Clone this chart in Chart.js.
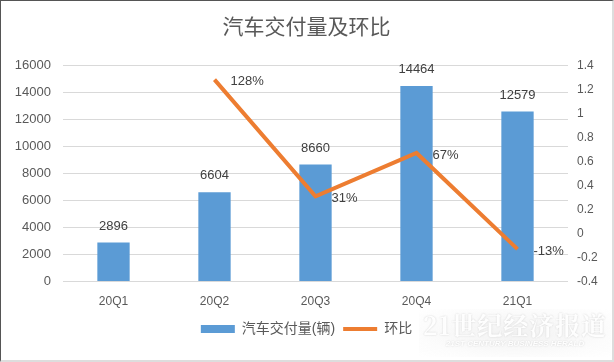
<!DOCTYPE html>
<html>
<head>
<meta charset="utf-8">
<script src="https://cdn.jsdelivr.net/npm/chart.js@4"></script>
<style>
  html, body { margin: 0; padding: 0; background: #fff; }
  .wrap { position: relative; width: 614px; height: 362px; box-sizing: border-box;
          border-top: 1px solid #555; border-left: 1px solid #555;
          border-right: 2px solid #ddd; border-bottom: 2px solid #ddd; }
  .mark { position: absolute; left: 418px; top: 308px; width: 192px; height: 48px;
          background: radial-gradient(ellipse at center, rgba(225,225,225,0.45) 0%, rgba(240,240,240,0.2) 70%, rgba(255,255,255,0) 100%);
          text-align: center; pointer-events: none; }
  .mark .cn { font-family: "Noto Serif CJK SC", "Noto Sans CJK SC", serif; font-weight: 700;
              font-size: 25px; color: rgba(255,255,255,0.97); text-shadow: 0 0 2px #d0d0d0;
              line-height: 30px; letter-spacing: 1px; }
  .mark .en { font-family: "Liberation Sans", sans-serif; font-style: italic; font-weight: 700;
              font-size: 8px; color: rgba(255,255,255,0.97); text-shadow: 0 0 2px #d0d0d0; }
</style>
</head>
<body>
<div class="wrap">
  <canvas id="chart" width="611" height="359"></canvas>
  <div class="mark"><div class="cn">21世纪经济报道</div><div class="en">21ST CENTURY BUSINESS HERALD</div></div>
</div>
<script>
// Data
const quarters = ['20Q1', '20Q2', '20Q3', '20Q4', '21Q1'];
const deliveries = [2896, 6604, 8660, 14464, 12579];
const qoqGrowth = [null, 1.28, 0.31, 0.67, -0.13];
const qoqLabels = ['', '128%', '31%', '67%', '-13%'];

const BLUE = '#5b9bd5';
const ORANGE = '#ed7d31';
const TEXT = '#595959';
const FONT = '"Liberation Sans", "Noto Sans CJK SC", sans-serif';

// Draw value labels next to bars and line points
const valueLabels = {
  id: 'valueLabels',
  afterDatasetsDraw(chart) {
    const ctx = chart.ctx;
    ctx.save();
    ctx.font = '13px ' + FONT;
    ctx.fillStyle = '#404040';

    const bars = chart.getDatasetMeta(0).data;
    ctx.textAlign = 'center';
    ctx.textBaseline = 'bottom';
    bars.forEach((bar, i) => {
      ctx.fillText(String(deliveries[i]), bar.x, bar.y - 10);
    });

    const points = chart.getDatasetMeta(1).data;
    ctx.textAlign = 'left';
    ctx.textBaseline = 'middle';
    points.forEach((pt, i) => {
      if (qoqGrowth[i] === null) return;
      ctx.fillText(qoqLabels[i], pt.x + 16, pt.y + 2);
    });
    ctx.restore();
  }
};

new Chart(document.getElementById('chart'), {
  data: {
    labels: quarters,
    datasets: [
      {
        type: 'bar',
        label: '汽车交付量(辆)',
        data: deliveries,
        backgroundColor: BLUE,
        borderWidth: 0,
        barPercentage: 0.32,
        categoryPercentage: 1,
        yAxisID: 'y',
        order: 2
      },
      {
        type: 'line',
        label: '环比',
        data: qoqGrowth,
        borderColor: ORANGE,
        backgroundColor: ORANGE,
        borderWidth: 4,
        pointRadius: 0,
        tension: 0,
        yAxisID: 'y1',
        order: 1
      }
    ]
  },
  options: {
    responsive: false,
    animation: false,
    layout: { padding: { left: 0, right: 0, top: 0, bottom: 14 } },
    plugins: {
      title: {
        display: true,
        text: '汽车交付量及环比',
        color: TEXT,
        font: { family: FONT, size: 21, weight: 'normal' },
        padding: { top: 15, bottom: 24 }
      },
      legend: {
        position: 'bottom',
        labels: {
          color: TEXT,
          font: { family: FONT, size: 14 },
          usePointStyle: true,
          pointStyleWidth: 34,
          boxHeight: 8,
          padding: 8,
          generateLabels() {
            return [
              { text: '汽车交付量(辆)', fillStyle: BLUE, strokeStyle: BLUE, lineWidth: 0,
                pointStyle: 'rect', fontColor: TEXT, datasetIndex: 0 },
              { text: '环比', fillStyle: ORANGE, strokeStyle: ORANGE, lineWidth: 4,
                pointStyle: 'line', fontColor: TEXT, datasetIndex: 1 }
            ];
          }
        }
      },
      tooltip: { enabled: false }
    },
    scales: {
      x: {
        grid: { display: false },
        border: { display: false },
        ticks: { color: TEXT, font: { family: FONT, size: 12 }, padding: 5 }
      },
      y: {
        position: 'left',
        min: 0,
        max: 16000,
        ticks: { stepSize: 2000, color: TEXT, font: { family: FONT, size: 13 }, padding: 12,
                 callback: v => String(v) },
        grid: { color: '#d9d9d9', drawTicks: false },
        border: { display: false },
        afterFit(scale) { scale.width = 62; }
      },
      y1: {
        position: 'right',
        min: -0.4,
        max: 1.4,
        ticks: { stepSize: 0.2, color: TEXT, font: { family: FONT, size: 12 }, padding: 9,
                 callback: v => String(Math.round(v * 10) / 10) },
        grid: { display: false, drawTicks: false },
        border: { display: false },
        afterFit(scale) { scale.width = 44; }
      }
    }
  },
  plugins: [valueLabels]
});
</script>
</body>
</html>
